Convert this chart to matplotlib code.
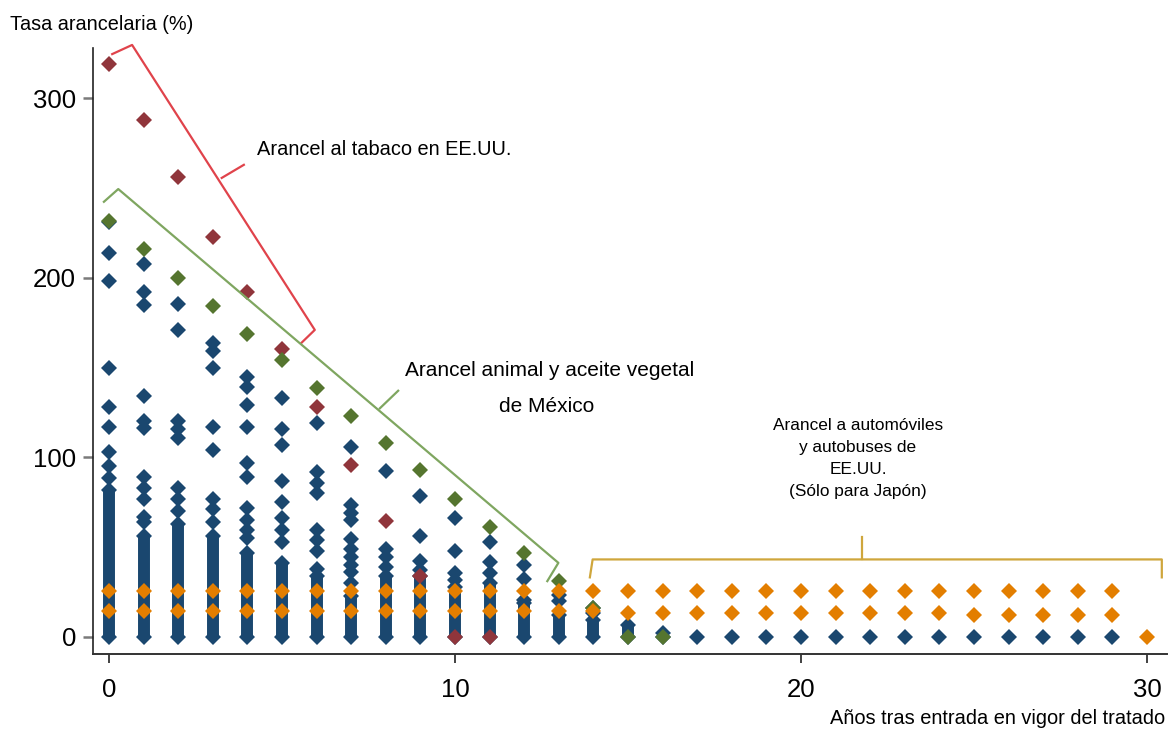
import matplotlib
matplotlib.use("Agg")
import matplotlib.pyplot as plt

plt.rcParams['font.family'] = ['Liberation Sans', 'DejaVu Sans']

# ---------------- data ----------------
# Navy: individual products (year, tariff %)
navy_pts_year = ([0]*9 + [1]*11 + [2]*8 + [3]*8 + [4]*10 + [5]*8 + [6]*8 + [7]*10
                 + [8]*4 + [9]*4 + [10]*4 + [11]*3 + [12]*3 + [13]*2 + [14]*2
                 + [17, 18, 19, 20, 21, 22, 23, 24, 25, 26, 27, 28, 29])
navy_pts_rate = ([231, 214, 198, 150, 128, 117, 103, 95, 88.5]
                 + [208, 192, 185, 134, 120, 116.5, 89, 83, 77, 67, 64]
                 + [185.6, 171, 120, 115.6, 110.7, 83, 77, 70]
                 + [163.7, 159, 149.7, 117, 104, 77, 71, 64]
                 + [145, 139, 129, 117, 97, 89, 71.6, 65, 59.5, 55]
                 + [133, 115.7, 106.8, 87, 75, 66, 59.5, 53]
                 + [119, 92, 85.6, 80, 59.5, 54, 48, 38]
                 + [106, 73.5, 69, 65, 54.5, 49, 44.6, 40, 36, 30]
                 + [92.5, 49, 44.6, 39]
                 + [78.4, 56, 42, 37.3]
                 + [66, 48, 35.7, 31.6]
                 + [53, 41.4, 35.7]
                 + [40, 32.3, 20.4]
                 + [23, 20]
                 + [16, 13]
                 + [0, 0, 0, 0, 0, 0, 0, 0, 0, 0, 0, 0, 0])
# Navy: densely packed product stacks (year, lowest, highest)
navy_band_year = [0, 1, 2, 3, 4, 5, 6, 7, 8, 9, 10, 11, 12, 13, 14, 15, 16]
navy_band_low = [0]*17
navy_band_high = [82, 56, 63, 56, 46.6, 41, 33.6, 22.5, 33.6, 33.6, 28, 30, 18.7, 12, 9.3, 6.5, 2]

# US tobacco tariff (maroon)
tobacco_year = [0, 1, 2, 3, 4, 5, 6, 7, 8, 9, 10, 11]
tobacco_rate = [319, 288, 256, 223, 192, 160.5, 128, 96, 64.5, 34, 0, 0]

# Mexico animal & vegetable oil tariff (green)
mexico_year = [0, 1, 2, 3, 4, 5, 6, 7, 8, 9, 10, 11, 12, 13, 14, 15, 16]
mexico_rate = [231.5, 216, 200, 184.5, 169, 154, 138.6, 123, 108, 93, 77, 61, 46.5, 31, 16, 0, 0]

# US autos / buses tariff, Japan only (orange)
autos_year = list(range(0, 30)) + list(range(0, 30)) + [30]
autos_rate = ([25.5]*30
              + [14.5]*15 + [13.4]*4 + [13]*6 + [12.2]*5
              + [0])

x_ticks = [0, 10, 20, 30]
y_ticks = [0, 100, 200, 300]

# ---------------- styling ----------------
NAVY = '#1a476f'
MAROON = '#90353b'
GREEN = '#55752f'
ORANGE = '#e37e00'

W, H = 1169, 729
fig = plt.figure(figsize=(W/100, H/100), dpi=100)
ax = fig.add_axes([93/W, 1-654/H, (1167-93)/W, (654-48)/H])

ms = 8.4
# dense stacks
ax.vlines(navy_band_year, navy_band_low, navy_band_high, color=NAVY, lw=8.6, zorder=2)
ax.plot(navy_band_year, navy_band_low, ls='none', marker='D', ms=ms, mew=0, color=NAVY, zorder=2)
ax.plot(navy_band_year, navy_band_high, ls='none', marker='D', ms=ms, mew=0, color=NAVY, zorder=2)
ax.plot(navy_pts_year, navy_pts_rate, ls='none', marker='D', ms=ms, mew=0, color=NAVY, zorder=2)
ax.plot(tobacco_year, tobacco_rate, ls='none', marker='D', ms=ms, mew=0, color=MAROON, zorder=3)
ax.plot(mexico_year, mexico_rate, ls='none', marker='D', ms=ms, mew=0, color=GREEN, zorder=4)
ax.plot(autos_year, autos_rate, ls='none', marker='D', ms=ms, mew=0, color=ORANGE, zorder=5)

ax.set_xlim(-0.46, 30.58)
ax.set_ylim(-9.6, 328.1)
ax.set_xticks(x_ticks)
ax.set_yticks(y_ticks)
ax.set_xticklabels([str(v) for v in x_ticks])
ax.set_yticklabels([str(v) for v in y_ticks])

for s in ['top', 'right']:
    ax.spines[s].set_visible(False)
ax.spines['left'].set_linewidth(1.2)
ax.spines['left'].set_color('#222222')
ax.spines['bottom'].set_linewidth(1.4)
ax.spines['bottom'].set_color('#333333')
ax.tick_params(axis='y', length=7.2, width=1.8, color='#7a7a7a', labelsize=18.5, pad=5)
ax.tick_params(axis='x', length=6.5, width=1.3, color='#333333', labelsize=18.5, pad=11)

# ---------------- brackets ----------------
RED_BR = '#e0434b'
GREEN_BR = '#7fa660'
GOLD_BR = '#cfa63c'

ax.plot([0.095, 0.67, 5.95, 5.57], [324.7, 329.8, 171, 163.9], color=RED_BR, lw=1.6, clip_on=False, zorder=6)
ax.plot([3.26, 3.9], [255.7, 263], color=RED_BR, lw=1.6, zorder=6)

ax.plot([-0.145, 0.27, 12.99, 12.67], [242.4, 249.5, 41.2, 31], color=GREEN_BR, lw=1.6, clip_on=False, zorder=6)
ax.plot([7.83, 8.36], [127.3, 137.1], color=GREEN_BR, lw=1.6, zorder=6)

ax.plot([13.9, 13.98, 30.43, 30.43], [33.1, 43.1, 43.1, 33.1], color=GOLD_BR, lw=1.6, clip_on=False, zorder=6)
ax.plot([21.76, 21.76], [43.1, 55.6], color=GOLD_BR, lw=1.6, zorder=6)

# ---------------- annotations ----------------
ax.text(4.27, 271.3, 'Arancel al tabaco en EE.UU.', fontsize=14.4, ha='left', va='center')
ax.text(12.75, 148.5, 'Arancel animal y aceite vegetal', fontsize=15, ha='center', va='center')
ax.text(12.65, 128.5, 'de México', fontsize=15, ha='center', va='center')
ax.text(21.65, 121.8, 'Arancel a automóviles\ny autobuses de\nEE.UU.\n(Sólo para Japón)',
        fontsize=12.4, ha='center', va='top', linespacing=1.58)

fig.text(10/W, 1-25/H, 'Tasa arancelaria (%)', fontsize=14.3, ha='left', va='center')
fig.text(1165/W, 1-718/H, 'Años tras entrada en vigor del tratado', fontsize=14.4, ha='right', va='center')

fig.savefig('out.png', dpi=100)
